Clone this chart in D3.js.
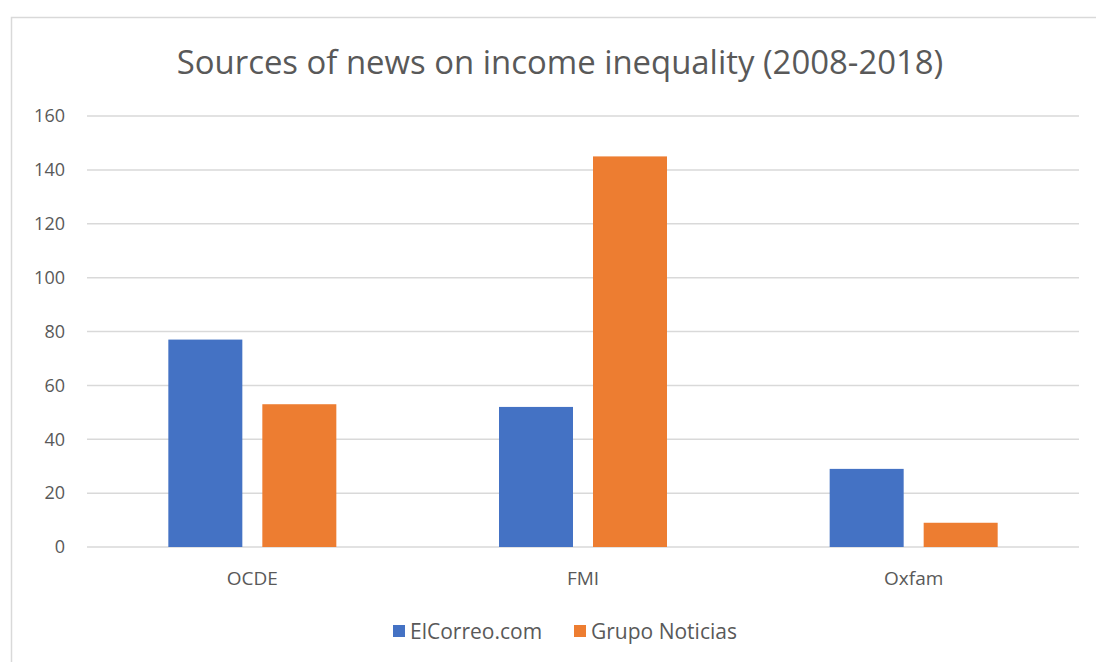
<!DOCTYPE html>
<html><head><meta charset="utf-8">
<script src="https://cdn.jsdelivr.net/npm/d3@7"></script>
<style>body{margin:0;background:#fff}svg{display:block}</style>
</head><body>
<svg id="c" width="1096" height="662"></svg>
<script>
const categories = ["OCDE", "FMI", "Oxfam"];
const seriesNames = ["ElCorreo.com", "Grupo Noticias"];
const elCorreo = [77, 52, 29];
const grupoNoticias = [53, 145, 9];
const yTicks = [0, 20, 40, 60, 80, 100, 120, 140, 160];
const colors = ["#4472C4", "#ED7D31"];
const title = "Sources of news on income inequality (2008-2018)";

const svg = d3.select("#c");
const font = "'Open Sans', 'Liberation Sans', sans-serif";
svg.append("rect").attr("x", 11.5).attr("y", 17.5).attr("width", 1100).attr("height", 700)
  .attr("fill", "#fff").attr("stroke", "#d9d9d9").attr("stroke-width", 1.5);

const m = {left: 87, right: 1079, top: 116, bottom: 547};
const x = d3.scaleBand().domain(categories).range([m.left, m.right]);
const y = d3.scaleLinear().domain([0, 160]).range([m.bottom, m.top]);

// gridlines
svg.append("g").selectAll("line").data(yTicks).join("line")
  .attr("x1", m.left).attr("x2", m.right)
  .attr("y1", d => y(d)).attr("y2", d => y(d))
  .attr("stroke", "#d9d9d9").attr("stroke-width", 1.5);

// y axis labels
const yAxis = d3.axisLeft(y).tickValues(yTicks).tickSize(0).tickPadding(22);
const ya = svg.append("g").attr("transform", `translate(${m.left},0)`).call(yAxis);
ya.select(".domain").remove();
ya.selectAll("text").attr("font-family", font).attr("font-size", 18).attr("fill", "#595959");

// bars
const bw = 74, gap = 20;
const data = seriesNames.map((s, i) => ({name: s, values: i === 0 ? elCorreo : grupoNoticias}));
data.forEach((s, si) => {
  svg.append("g").selectAll("rect").data(categories.map((c, ci) => ({c, v: s.values[ci]}))).join("rect")
    .attr("x", d => x(d.c) + x.bandwidth() / 2 - bw - gap / 2 + si * (bw + gap))
    .attr("width", bw)
    .attr("y", d => y(d.v))
    .attr("height", d => y(0) - y(d.v))
    .attr("fill", colors[si]);
});

// x axis labels
const xAxis = d3.axisBottom(x).tickSize(0).tickPadding(25);
const xa = svg.append("g").attr("transform", `translate(0,${m.bottom})`).call(xAxis);
xa.select(".domain").remove();
xa.selectAll("text").attr("font-family", font).attr("font-size", 19).attr("fill", "#595959");

// title
const t = svg.append("text").attr("x", 560).attr("y", 74).attr("text-anchor", "middle")
  .attr("font-family", font).attr("font-size", 28).attr("fill", "#595959").text(title);
const tw = t.node().getComputedTextLength();
t.attr("font-size", 28 * 767 / tw);

// legend
const leg = svg.append("g");
const legX = [393, 574];
seriesNames.forEach((s, i) => {
  leg.append("rect").attr("x", legX[i]).attr("y", 625).attr("width", 12).attr("height", 12).attr("fill", colors[i]);
  leg.append("text").attr("x", legX[i] + 17).attr("y", 639)
    .attr("font-family", font).attr("font-size", 21).attr("fill", "#595959").text(s);
});
</script>
</body></html>
